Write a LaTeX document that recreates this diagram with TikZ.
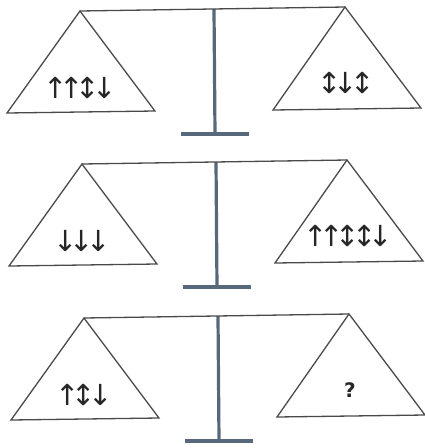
\documentclass[tikz,border=0pt]{standalone}
\usepackage{fontspec}
\setmainfont{DejaVu Sans}
\newfontfamily\arrowfont[LetterSpace=-28]{DejaVu Sans}
\definecolor{beamgray}{HTML}{4A4A4A}
\definecolor{postblue}{HTML}{56687A}
\begin{document}
\begin{tikzpicture}[
  x=1pt, y=-1pt,
  every node/.style={font=\arrowfont\fontsize{29}{31}\selectfont, text=black!85},
  pan/.style={draw=beamgray, line width=1.3pt, line join=miter},
  beam/.style={draw=beamgray, line width=1.3pt},
  post/.style={draw=postblue, line width=3.2pt},
  foot/.style={draw=postblue, line width=4pt}
]
  \useasboundingbox (0,0) rectangle (425,448);
  \foreach \i/\dx/\dy/\lt/\rt in {1/0/0/{↑↑↕↓}/{↕↓↕}, 2/2/153/{↓↓↓}/{↑↑↕↕↓}, 3/4/307/{↑↕↓}/{\normalfont\bfseries\fontsize{20}{22}\selectfont ?}}{
    \begin{scope}[shift={(\dx,\dy)}]
      \coordinate (la\i) at (80,11);
      \coordinate (ra\i) at (345,7);
      \coordinate (top\i) at (214,9);
      \coordinate (base\i) at (215,134);
      % stand
      \draw[post] (top\i) -- (base\i);
      \draw[foot] (181,134) -- (249,134);
      % beam and pans
      \draw[beam] (la\i) -- (ra\i);
      \draw[pan] (la\i) -- (7,113) -- (155,111) -- cycle;
      \draw[pan] (ra\i) -- (273,110) -- (421,108) -- cycle;
      \node (lload\i) at (80,88) {\lt};
      \node (rload\i) at (346,83) {\rt};
    \end{scope}
  }
\end{tikzpicture}
\end{document}
